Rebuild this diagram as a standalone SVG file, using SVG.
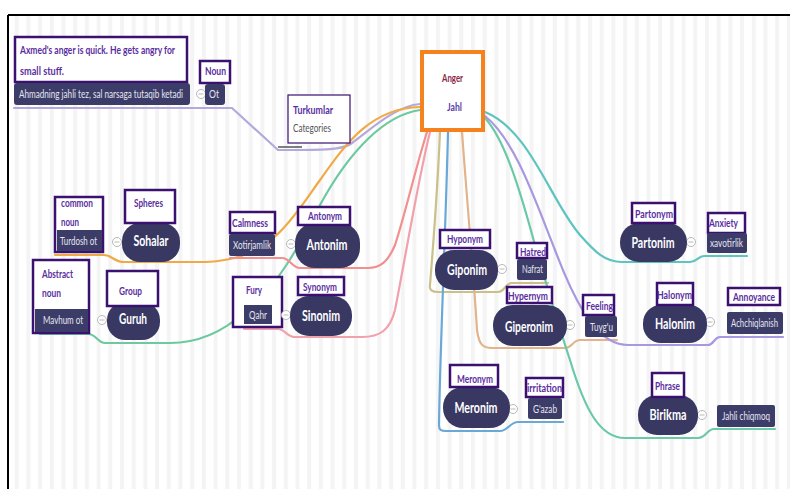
<svg xmlns="http://www.w3.org/2000/svg" width="790" height="489" viewBox="0 0 790 489">
<style>
.lb{fill:#fff;stroke:#3b1070;stroke-width:2.5}
.lt{font-family:Lato,"Liberation Sans",sans-serif;font-weight:bold;font-size:11px;fill:#5a2ea0}
.pill{fill:#383863}
.pt{font-family:Lato,"Liberation Sans",sans-serif;font-weight:bold;font-size:15px;fill:#fff;text-anchor:middle}
.dk{fill:#3c3c68}
.dt{font-family:Lato,"Liberation Sans",sans-serif;font-size:11px;fill:#e6e6f0}
.cl{fill:#fff;stroke:#b8b8b8;stroke-width:1}
.c{fill:none;stroke-width:2.2;stroke-linecap:round}
</style>
<defs>
<pattern id="st" x="3" y="0" width="11.7" height="20" patternUnits="userSpaceOnUse">
<rect x="0" y="0" width="4" height="20" fill="#f4f4f4"/>
</pattern>
<g id="cm"><circle r="4.5" class="cl"/><line x1="-2.5" y1="0" x2="2.5" y2="0" stroke="#b8b8b8" stroke-width="1"/></g>
</defs>
<rect width="790" height="489" fill="#fff"/>
<rect x="9" y="16" width="781" height="473" fill="url(#st)"/>
<line x1="8" y1="15" x2="790" y2="15" stroke="#000" stroke-width="2"/>
<line x1="8" y1="15" x2="8" y2="489" stroke="#000" stroke-width="2"/>

<g id="connectors">
<path class="c" stroke="#b3a9dc" d="M420,104 C395,106 370,130 352,143 C345,148 335,150 300,150 L278,150 L232,108 L14,108"/>
<line x1="278" y1="147" x2="302" y2="147" stroke="#555" stroke-width="1.5"/>
<path class="c" stroke="#f0aa45" d="M420,107 C370,108 345,145 320,180 C295,215 275,250 230,259 C220,261 215,262 205,262 L124,262 C114,262 112,255 104,255 L55,255"/>
<path class="c" stroke="#6cc9a0" d="M420,110 C385,115 350,150 320,205 C300,245 275,290 245,312 C225,330 200,343 170,343 L105,343 C98,343 96,334 88,334 L40,334"/>
<path class="c" stroke="#f29090" d="M427,132 C415,170 405,215 395,245 C388,262 380,268 368,268 L300,268 C292,268 290,258 282,258 L230,258"/>
<path class="c" stroke="#f2a0ac" d="M430,132 C418,180 405,260 395,310 C390,330 380,337 362,337 L295,337 C287,337 285,329 278,329 L244,329"/>
<path class="c" stroke="#c9c08a" d="M440,132 C437,200 432,260 430,285 C429,290 432,292 438,292 L498,292 C505,292 505,283 512,283 L548,283"/>
<path class="c" stroke="#6aa8d8" d="M448,132 C446,220 440,350 439,425 C439,430 441,431 446,431 L500,431 C508,431 510,422 518,422 L563,422"/>
<path class="c" stroke="#e2b48c" d="M462,132 C467,200 474,280 477,330 C479,345 483,348 492,348 L565,348 C572,348 573,340 580,340 L617,340"/>
<path class="c" stroke="#6cc9a8" d="M485,118 C505,140 520,190 535,245 C548,290 560,330 570,360 C585,410 600,438 625,438 L698,438 C706,438 707,429 714,429 L775,429"/>
<path class="c" stroke="#a898e0" d="M485,116 C515,140 535,200 555,250 C570,290 590,330 610,340 C615,343 620,345 628,345 L708,345 C714,345 714,337 720,337 L783,337"/>
<path class="c" stroke="#5ec4c0" d="M485,112 C530,130 550,200 580,235 C595,252 605,262 622,262 L690,262 C697,262 698,256 704,256 L747,256"/>
</g>

<g id="example">
<rect class="lb" x="15" y="37" width="172" height="45"/>
<text class="lt" x="20" y="54" textLength="155" lengthAdjust="spacingAndGlyphs">Axmed's anger is quick. He gets angry for</text>
<text class="lt" x="20" y="75" textLength="44" lengthAdjust="spacingAndGlyphs">small stuff.</text>
<rect class="dk" x="14" y="83" width="176" height="22" rx="3"/>
<text class="dt" x="19" y="98" font-size="10" textLength="164" lengthAdjust="spacingAndGlyphs">Ahmadning jahli tez, sal narsaga tutaqib ketadi</text>
<use href="#cm" x="201" y="94"/>
</g>
<g id="ot">
<rect class="lb" x="200" y="61" width="30" height="22"/>
<text class="lt" x="205" y="75" textLength="21" lengthAdjust="spacingAndGlyphs">Noun</text>
<rect class="dk" x="205" y="84" width="20" height="21" rx="3"/>
<text class="dt" x="209" y="98" textLength="10" lengthAdjust="spacingAndGlyphs">Ot</text>
</g>
<g id="turkumlar">
<rect x="288" y="95" width="62" height="48" fill="#fff" stroke="#3b1070" stroke-width="1.2"/>
<text class="lt" x="293" y="114" textLength="40" lengthAdjust="spacingAndGlyphs">Turkumlar</text>
<text x="293" y="132" font-family="Lato,'Liberation Sans',sans-serif" font-size="11" fill="#555" textLength="38" lengthAdjust="spacingAndGlyphs">Categories</text>
</g>
<g id="jahl">
<rect x="422" y="52" width="61" height="78" fill="#fff" stroke="#f5821f" stroke-width="4"/>
<text x="442" y="82" font-family="Lato,'Liberation Sans',sans-serif" font-weight="bold" font-size="11" fill="#8b2846" textLength="21" lengthAdjust="spacingAndGlyphs">Anger</text>
<text x="447" y="111" font-family="Lato,'Liberation Sans',sans-serif" font-weight="bold" font-size="11" fill="#5b3ea8" textLength="15" lengthAdjust="spacingAndGlyphs">Jahl</text>
</g>

<g id="turdosh">
<rect class="lb" x="55" y="197" width="48" height="55"/>
<text class="lt" x="61" y="207" textLength="32" lengthAdjust="spacingAndGlyphs">common</text>
<text class="lt" x="61" y="226" textLength="18" lengthAdjust="spacingAndGlyphs">noun</text>
<rect class="dk" x="57" y="230" width="45" height="21"/>
<text class="dt" x="60" y="245" textLength="37" lengthAdjust="spacingAndGlyphs">Turdosh ot</text>
</g>
<g id="sohalar">
<use href="#cm" x="117" y="242"/>
<rect class="pill" x="122" y="223" width="58" height="39" rx="18"/>
<text class="pt" x="151" y="246" textLength="35" lengthAdjust="spacingAndGlyphs">Sohalar</text>
<rect class="lb" x="125" y="190" width="50" height="33"/>
<text class="lt" x="134" y="207" textLength="29" lengthAdjust="spacingAndGlyphs">Spheres</text>
</g>
<g id="mavhum">
<rect class="lb" x="33" y="260" width="56" height="73"/>
<text class="lt" x="42" y="278" textLength="31" lengthAdjust="spacingAndGlyphs">Abstract</text>
<text class="lt" x="42" y="297" textLength="19" lengthAdjust="spacingAndGlyphs">noun</text>
<rect class="dk" x="35" y="309" width="53" height="23"/>
<text class="dt" x="43" y="324" textLength="40" lengthAdjust="spacingAndGlyphs">Mavhum ot</text>
</g>
<g id="guruh">
<use href="#cm" x="102" y="320"/>
<rect class="pill" x="107" y="302" width="53" height="38" rx="18"/>
<rect class="lb" x="107" y="271" width="51" height="35"/>
<text class="lt" x="119" y="295" textLength="23" lengthAdjust="spacingAndGlyphs">Group</text>
<text class="pt" x="133" y="324" textLength="28" lengthAdjust="spacingAndGlyphs">Guruh</text>
</g>
<g id="xotirjamlik">
<rect class="lb" x="230" y="212" width="45" height="21"/>
<text class="lt" x="232" y="227" textLength="36" lengthAdjust="spacingAndGlyphs">Calmness</text>
<rect class="dk" x="229" y="234" width="46" height="22" rx="2"/>
<text class="dt" x="233" y="249" textLength="38" lengthAdjust="spacingAndGlyphs">Xotirjamlik</text>
</g>
<g id="antonim">
<use href="#cm" x="291" y="244"/>
<rect class="pill" x="295" y="223" width="65" height="45" rx="20"/>
<text class="pt" x="327" y="250" textLength="41" lengthAdjust="spacingAndGlyphs">Antonim</text>
<rect class="lb" x="298" y="207" width="52" height="18"/>
<text class="lt" x="308" y="220" textLength="34" lengthAdjust="spacingAndGlyphs">Antonym</text>
</g>
<g id="qahr">
<rect class="lb" x="233" y="277" width="49" height="50"/>
<text class="lt" x="246" y="294" textLength="16" lengthAdjust="spacingAndGlyphs">Fury</text>
<rect class="dk" x="244" y="305" width="28" height="19"/>
<text class="dt" x="249" y="319" textLength="18" lengthAdjust="spacingAndGlyphs">Qahr</text>
</g>
<g id="sinonim">
<use href="#cm" x="286" y="315"/>
<rect class="pill" x="290" y="296" width="62" height="40" rx="19"/>
<text class="pt" x="321" y="321" textLength="38" lengthAdjust="spacingAndGlyphs">Sinonim</text>
<rect class="lb" x="298" y="277" width="46" height="18"/>
<text class="lt" x="303" y="291" textLength="34" lengthAdjust="spacingAndGlyphs">Synonym</text>
</g>

<g id="giponim">
<use href="#cm" x="502" y="269"/>
<rect class="pill" x="435" y="250" width="63" height="40" rx="19"/>
<text class="pt" x="467" y="275" textLength="40" lengthAdjust="spacingAndGlyphs">Giponim</text>
<rect class="lb" x="440" y="230" width="50" height="18"/>
<text class="lt" x="447" y="243" textLength="36" lengthAdjust="spacingAndGlyphs">Hyponym</text>
</g>
<g id="nafrat">
<rect class="lb" x="517" y="243" width="30" height="15"/>
<text class="lt" x="520" y="256" textLength="26" lengthAdjust="spacingAndGlyphs">Hatred</text>
<rect class="dk" x="517" y="259" width="30" height="21" rx="2"/>
<text class="dt" x="522" y="273" textLength="21" lengthAdjust="spacingAndGlyphs">Nafrat</text>
</g>
<g id="giperonim">
<use href="#cm" x="570" y="325"/>
<rect class="pill" x="493" y="305" width="74" height="41" rx="20"/>
<text class="pt" x="529" y="332" textLength="48" lengthAdjust="spacingAndGlyphs">Giperonim</text>
<rect class="lb" x="507" y="287" width="45" height="16"/>
<text class="lt" x="508" y="300" textLength="40" lengthAdjust="spacingAndGlyphs">Hypernym</text>
</g>
<g id="tuygu">
<rect class="lb" x="583" y="295" width="31" height="20"/>
<text class="lt" x="586" y="310" textLength="27" lengthAdjust="spacingAndGlyphs">Feeling</text>
<rect class="dk" x="585" y="316" width="32" height="21" rx="2"/>
<text class="dt" x="590" y="331" textLength="23" lengthAdjust="spacingAndGlyphs">Tuyg'u</text>
</g>
<g id="meronim">
<use href="#cm" x="513" y="409"/>
<rect class="pill" x="443" y="387" width="67" height="41" rx="20"/>
<text class="pt" x="476" y="413" textLength="43" lengthAdjust="spacingAndGlyphs">Meronim</text>
<rect class="lb" x="450" y="365" width="48" height="22"/>
<text class="lt" x="457" y="383" textLength="36" lengthAdjust="spacingAndGlyphs">Meronym</text>
</g>
<g id="gazab">
<rect class="lb" x="526" y="378" width="37" height="19"/>
<text class="lt" x="527" y="392" textLength="35" lengthAdjust="spacingAndGlyphs">irritation</text>
<rect class="dk" x="528" y="398" width="34" height="21" rx="2"/>
<text class="dt" x="533" y="413" textLength="24" lengthAdjust="spacingAndGlyphs">G'azab</text>
</g>
<g id="birikma">
<use href="#cm" x="702" y="415"/>
<rect class="pill" x="638" y="395" width="60" height="40" rx="19"/>
<text class="pt" x="668" y="420" textLength="37" lengthAdjust="spacingAndGlyphs">Birikma</text>
<rect class="lb" x="652" y="373" width="32" height="24"/>
<text class="lt" x="655" y="390" textLength="25" lengthAdjust="spacingAndGlyphs">Phrase</text>
</g>
<g id="jahlichiqmoq">
<rect class="dk" x="717" y="405" width="58" height="22" rx="2"/>
<text class="dt" x="722" y="420" textLength="48" lengthAdjust="spacingAndGlyphs">Jahli chiqmoq</text>
</g>
<g id="partonim">
<use href="#cm" x="691" y="242"/>
<rect class="pill" x="620" y="223" width="67" height="39" rx="19"/>
<text class="pt" x="653" y="248" textLength="43" lengthAdjust="spacingAndGlyphs">Partonim</text>
<rect class="lb" x="632" y="203" width="43" height="20"/>
<text class="lt" x="635" y="218" textLength="38" lengthAdjust="spacingAndGlyphs">Partonym</text>
</g>
<g id="xavotirlik">
<rect class="lb" x="708" y="213" width="37" height="20"/>
<text class="lt" x="709" y="227" textLength="29" lengthAdjust="spacingAndGlyphs">Anxiety</text>
<rect class="dk" x="707" y="233" width="40" height="20" rx="2"/>
<text class="dt" x="710" y="247" textLength="33" lengthAdjust="spacingAndGlyphs">xavotirlik</text>
</g>
<g id="halonim">
<use href="#cm" x="710" y="322"/>
<rect class="pill" x="643" y="305" width="64" height="38" rx="18"/>
<text class="pt" x="675" y="329" textLength="40" lengthAdjust="spacingAndGlyphs">Halonim</text>
<rect class="lb" x="657" y="283" width="36" height="22"/>
<text class="lt" x="657" y="299" textLength="35" lengthAdjust="spacingAndGlyphs">Halonym</text>
</g>
<g id="achchiqlanish">
<rect class="lb" x="728" y="288" width="52" height="17"/>
<text class="lt" x="733" y="301" textLength="42" lengthAdjust="spacingAndGlyphs">Annoyance</text>
<rect class="dk" x="727" y="312" width="56" height="22" rx="2"/>
<text class="dt" x="731" y="327" font-size="10" textLength="47" lengthAdjust="spacingAndGlyphs">Achchiqlanish</text>
</g>
</svg>
